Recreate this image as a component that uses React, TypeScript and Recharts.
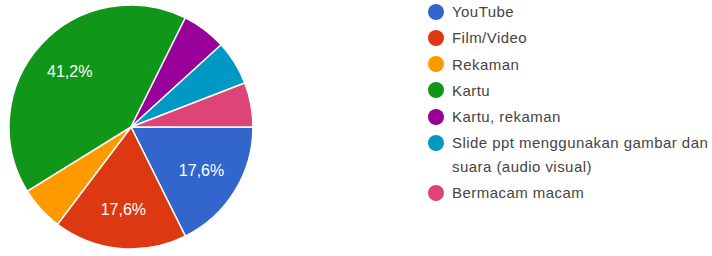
import React from 'react';
import { PieChart, Pie, Cell, Legend } from 'recharts';

const categories = ['YouTube', 'Film/Video', 'Rekaman', 'Kartu', 'Kartu, rekaman', 'Slide ppt menggunakan gambar dan suara (audio visual)', 'Bermacam macam'];
const counts = [3, 3, 1, 7, 1, 1, 1];
const colors = ['#3366cc', '#dc3912', '#ff9900', '#109618', '#990099', '#0099c6', '#dd4477'];

const data = categories.map((name, i) => ({ name, value: counts[i] }));

const RAD = Math.PI / 180;
const FONT = '"Liberation Sans", Arial, sans-serif';

const renderLabel = (props: any) => {
  const { cx, cy, midAngle, outerRadius, percent } = props;
  if (percent < 0.1) return null;
  const r = outerRadius * 0.68;
  const x = cx + r * Math.cos(-midAngle * RAD);
  const y = cy + r * Math.sin(-midAngle * RAD);
  const txt = (percent * 100).toFixed(1).replace('.', ',') + '%';
  return (
    <text x={x} y={y} fill="#ffffff" textAnchor="middle" dominantBaseline="central" fontSize={16} fontFamily={FONT}>
      {txt}
    </text>
  );
};

const renderLegend = () => (
  <div style={{ fontFamily: FONT, fontSize: 15, letterSpacing: '0.45px', color: '#444444' }}>
    {categories.map((name, i) => (
      <div key={name} style={{ display: 'flex', alignItems: 'flex-start', lineHeight: '23.3px', marginBottom: 3 }}>
        <span style={{ width: 16, height: 16, borderRadius: 8, background: colors[i], marginTop: 3.5, marginRight: 8, flexShrink: 0 }} />
        <span style={{ maxWidth: 264 }}>{name}</span>
      </div>
    ))}
  </div>
);

export default function App() {
  return (
    <div style={{ position: 'absolute', left: 0, top: 0, background: '#fff' }}>
      <PieChart width={712} height={256} margin={{ top: 0, right: 0, bottom: 0, left: 0 }}>
        <Pie
          data={data}
          dataKey="value"
          nameKey="name"
          cx={131}
          cy={127}
          outerRadius={122}
          startAngle={0}
          endAngle={-360}
          stroke="#ffffff"
          strokeWidth={1.5}
          label={renderLabel}
          labelLine={false}
          isAnimationActive={false}
        >
          {data.map((d, i) => (
            <Cell key={d.name} fill={colors[i]} />
          ))}
        </Pie>
        <Legend content={renderLegend} layout="vertical" verticalAlign="top" align="right" wrapperStyle={{ position: 'absolute', left: 428, top: 0, width: 284 }} />
      </PieChart>
    </div>
  );
}
